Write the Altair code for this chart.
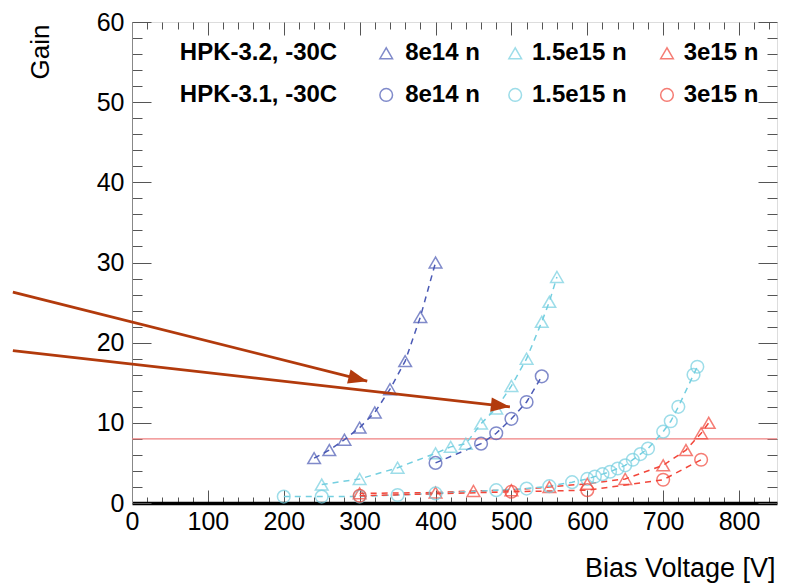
import math
import altair as alt
import pandas as pd

# ---------------- data ----------------
fluences = ["8e14 n", "1.5e15 n", "3e15 n"]
sensors = ["HPK-3.2", "HPK-3.1"]
sensor_labels = ["HPK-3.2, -30C", "HPK-3.1, -30C"]

# HPK-3.2 (triangles)
v_32_8e14 = [240, 260, 280, 300, 320, 340, 360, 380, 400]
g_32_8e14 = [5.6, 6.6, 7.9, 9.4, 11.3, 14.2, 17.7, 23.2, 30.0]
v_32_15e15 = [250, 300, 350, 400, 420, 440, 460, 480, 500, 520, 540, 550, 560]
g_32_15e15 = [2.3, 3.0, 4.4, 6.2, 7.0, 7.4, 9.9, 11.8, 14.6, 18.0, 22.6, 25.1, 28.2]
v_32_3e15 = [300, 400, 450, 500, 550, 600, 650, 700, 730, 750, 760]
g_32_3e15 = [1.2, 1.3, 1.5, 1.6, 2.0, 2.4, 3.0, 4.7, 6.6, 8.7, 10.0]

# HPK-3.1 (circles)
v_31_8e14 = [400, 460, 480, 500, 520, 540]
g_31_8e14 = [5.0, 7.4, 8.7, 10.5, 12.6, 15.8]
v_31_15e15 = [200, 250, 300, 350, 400, 480, 520, 550, 580, 600, 610, 620, 630,
              640, 650, 660, 670, 680, 700, 710, 720, 740, 745]
g_31_15e15 = [0.8, 0.8, 0.8, 1.0, 1.2, 1.6, 1.8, 2.1, 2.6, 3.0, 3.3, 3.6, 3.9,
              4.3, 4.7, 5.4, 6.1, 6.8, 8.9, 10.2, 12.0, 16.0, 17.0]
v_31_3e15 = [300, 500, 600, 700, 750]
g_31_3e15 = [0.9, 1.4, 1.6, 2.9, 5.4]

threshold_gain = [8]

# annotation arrows (data coordinates)
arrow_x0 = [-157, -157]
arrow_y0 = [26.3, 19.0]
arrow_x1 = [310, 498]
arrow_y1 = [15.2, 12.0]

# legend positions (data coordinates)
legend_row_y = [56.1, 50.9]
legend_label_x = 63
legend_sym_x = [335, 505, 705]
legend_text_x = [360, 527, 727]

x_major = list(range(0, 900, 100))
x_minor = [v for v in range(0, 860, 20) if v % 100]
y_major = list(range(0, 70, 10))
y_minor = [v for v in range(0, 61, 2) if v % 10]

# ---------------- styling ----------------
W, H = 645, 481
X_MAX, Y_MAX = 850, 60
colors = ["#4b5ab5", "#74cfe0", "#f2463a"]
shapes = ["triangle-up", "circle"]
ARROW_COLOR = "#b23a0c"
TICK_COLOR = "#555555"
FONT = "Liberation Sans"

series = [
    ("HPK-3.2", "8e14 n", v_32_8e14, g_32_8e14),
    ("HPK-3.2", "1.5e15 n", v_32_15e15, g_32_15e15),
    ("HPK-3.2", "3e15 n", v_32_3e15, g_32_3e15),
    ("HPK-3.1", "8e14 n", v_31_8e14, g_31_8e14),
    ("HPK-3.1", "1.5e15 n", v_31_15e15, g_31_15e15),
    ("HPK-3.1", "3e15 n", v_31_3e15, g_31_3e15),
]
rows = []
for sensor, flu, vs, gs in series:
    for v, g in zip(vs, gs):
        rows.append(dict(V=v, gain=g, sensor=sensor, fluence=flu, series=sensor + " " + flu))
df = pd.DataFrame(rows)


def xsc():
    return alt.Scale(domain=[0, X_MAX], nice=False, zero=False)


def ysc():
    return alt.Scale(domain=[0, Y_MAX], nice=False, zero=False)


color_enc = alt.Color("fluence:N", scale=alt.Scale(domain=fluences, range=colors), legend=None)
shape_enc = alt.Shape("sensor:N", scale=alt.Scale(domain=sensors, range=shapes), legend=None)

# ---------------- tick-only axis layers (inward ticks on all four sides) ----------------
dummy = pd.DataFrame({"V": [0], "gain": [0]})


def tick_layer(x_orient, y_orient, xv, yv, xsize, ysize):
    return alt.Chart(dummy).mark_point(opacity=0).encode(
        x=alt.X("V:Q", scale=xsc(), axis=alt.Axis(
            orient=x_orient, offset=-H, values=xv, labels=False, domain=False, grid=False,
            tickSize=xsize, tickColor=TICK_COLOR, tickWidth=1, title=None)),
        y=alt.Y("gain:Q", scale=ysc(), axis=alt.Axis(
            orient=y_orient, offset=-W, values=yv, labels=False, domain=False, grid=False,
            tickSize=ysize, tickColor=TICK_COLOR, tickWidth=1, title=None)),
    )


ticks_bl_major = tick_layer("top", "right", x_major, y_major, 13, 19)
ticks_bl_minor = tick_layer("top", "right", x_minor, y_minor, 6, 10)
ticks_tr_major = tick_layer("bottom", "left", x_major, y_major, 13, 19)
ticks_tr_minor = tick_layer("bottom", "left", x_minor, y_minor, 7, 10)

# ---------------- threshold line ----------------
thr = alt.Chart(pd.DataFrame({"gain": threshold_gain})).mark_rule(
    color="#ef8080", strokeWidth=1.2
).encode(y=alt.Y("gain:Q", scale=ysc(), axis=None))

# ---------------- data layers ----------------
lines = alt.Chart(df).mark_line(strokeDash=[6, 5], strokeWidth=1.5).encode(
    x=alt.X("V:Q", scale=xsc(), axis=None),
    y=alt.Y("gain:Q", scale=ysc(), axis=None),
    color=color_enc,
    detail="series:N",
    order="V:Q",
)

points = alt.Chart(df).mark_point(filled=False, strokeWidth=1.5, size=160).encode(
    x=alt.X("V:Q", scale=xsc(), axis=alt.Axis(
        orient="bottom", values=x_major, ticks=False, grid=False,
        labelFontSize=25, labelFont=FONT, labelColor="black", labelPadding=6,
        labelFlush=False, labelOverlap=False,
        domainColor="black", domainWidth=3.5,
        title="Bias Voltage [V]", titleFont=FONT, titleFontSize=27, titleFontWeight="normal",
        titleColor="black", titleAnchor="end", titleAlign="right", titleBaseline="alphabetic",
        titleX=W - 2, titleY=73)),
    y=alt.Y("gain:Q", scale=ysc(), axis=alt.Axis(
        orient="left", values=y_major, ticks=False, grid=False,
        labelFontSize=25, labelFont=FONT, labelColor="black", labelPadding=8,
        labelFlush=False, labelOverlap=False,
        domainColor="#888888", domainWidth=1,
        title="Gain", titleFont=FONT, titleFontSize=26, titleFontWeight="normal",
        titleColor="black", titleAngle=270, titleAlign="right", titleBaseline="middle",
        titleX=-92, titleY=2)),
    color=color_enc,
    shape=shape_enc,
)

# ---------------- arrows ----------------
px_x = W / X_MAX
px_y = H / Y_MAX
arrow_df = pd.DataFrame({
    "x0": arrow_x0, "y0": arrow_y0, "x1": arrow_x1, "y1": arrow_y1,
})
arrow_df["ang"] = [
    math.degrees(math.atan2((a - b) * px_y, (d - c) * px_x))
    for a, b, c, d in zip(arrow_y0, arrow_y1, arrow_x0, arrow_x1)
]

arrow_lines = alt.Chart(arrow_df).mark_rule(
    color=ARROW_COLOR, strokeWidth=2.7, clip=False
).encode(
    x=alt.X("x0:Q", scale=xsc(), axis=None),
    y=alt.Y("y0:Q", scale=ysc(), axis=None),
    x2="x1:Q",
    y2="y1:Q",
)

arrow_heads = alt.Chart(arrow_df).mark_point(
    shape="M0,0 L-2,-0.75 L-2,0.75 Z", filled=True, size=361, opacity=1,
    color=ARROW_COLOR, strokeWidth=0, clip=False
).encode(
    x=alt.X("x1:Q", scale=xsc(), axis=None),
    y=alt.Y("y1:Q", scale=ysc(), axis=None),
    angle=alt.Angle("ang:Q", scale=None),
)

# ---------------- manual legend ----------------
leg_rows = []
for s, ry in zip(sensors, legend_row_y):
    for f, sx, tx in zip(fluences, legend_sym_x, legend_text_x):
        leg_rows.append(dict(sensor=s, fluence=f, sx=sx, tx=tx, y=ry))
leg_df = pd.DataFrame(leg_rows)

leg_sym = alt.Chart(leg_df).mark_point(filled=False, strokeWidth=1.5, size=160).encode(
    x=alt.X("sx:Q", scale=xsc(), axis=None),
    y=alt.Y("y:Q", scale=ysc(), axis=None),
    color=color_enc,
    shape=shape_enc,
)

leg_txt = alt.Chart(leg_df).mark_text(
    align="left", baseline="middle", font=FONT, fontWeight="bold", fontSize=24, color="black"
).encode(
    x=alt.X("tx:Q", scale=xsc(), axis=None),
    y=alt.Y("y:Q", scale=ysc(), axis=None),
    text="fluence:N",
)

leg_head = alt.Chart(pd.DataFrame({"label": sensor_labels, "y": legend_row_y})).mark_text(
    align="left", baseline="middle", font=FONT, fontWeight="bold", fontSize=24, color="black"
).encode(
    x=alt.X("lx:Q", scale=xsc(), axis=None),
    y=alt.Y("y:Q", scale=ysc(), axis=None),
    text="label:N",
).transform_calculate(lx=str(legend_label_x))

chart = alt.layer(
    ticks_bl_major, ticks_bl_minor, ticks_tr_major, ticks_tr_minor,
    thr, lines, points, arrow_lines, arrow_heads, leg_sym, leg_txt, leg_head,
).resolve_scale(
    x="independent", y="independent"
).resolve_axis(
    x="independent", y="independent"
).properties(
    width=W, height=H,
    padding={"left": 124, "top": 14, "right": 10, "bottom": 81},
    autosize=alt.AutoSizeParams(type="none"),
).configure_view(
    stroke="#888888", strokeWidth=1
).configure(background="white")

chart.save("out.html", embed_options={"renderer": "svg", "actions": False})
